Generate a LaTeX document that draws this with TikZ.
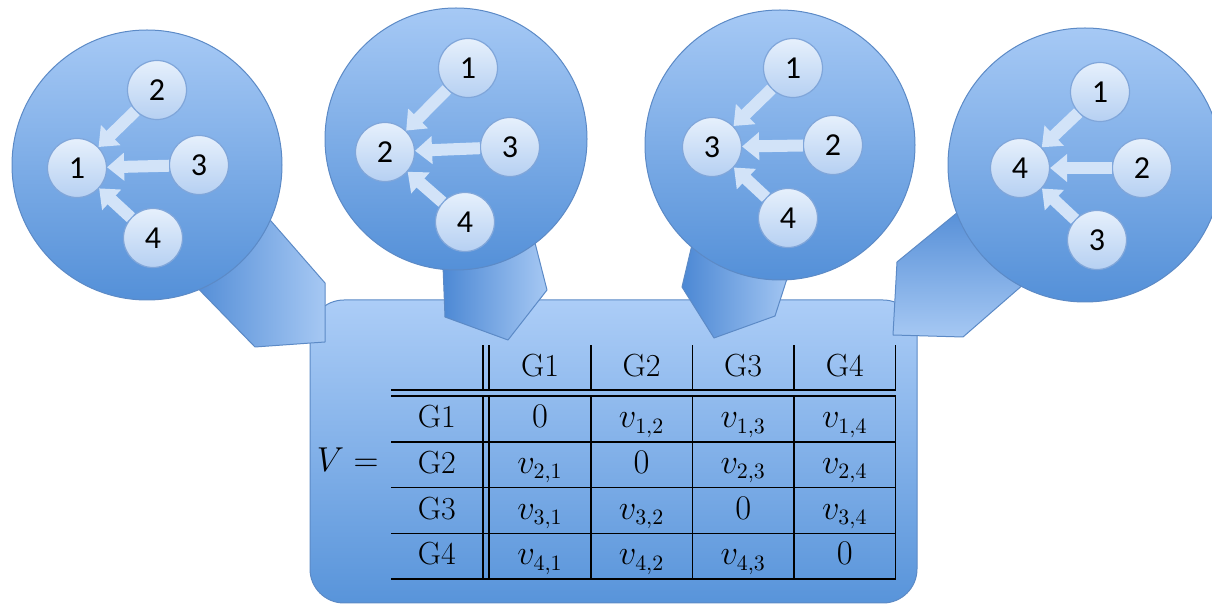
\documentclass[tikz,border=0pt]{standalone}
\usepackage{fontspec}
\usepackage{array}
\usepackage{tikz}
\usetikzlibrary{arrows.meta}
\newfontfamily\calibri{Carlito}

\definecolor{bubbletop}{RGB}{166,201,245}
\definecolor{bubblebot}{RGB}{84,144,216}
\definecolor{bubbleline}{RGB}{92,138,198}
\definecolor{dottop}{RGB}{230,240,252}
\definecolor{dotbot}{RGB}{182,208,242}
\definecolor{dotline}{RGB}{128,166,218}
\definecolor{arrowfill}{RGB}{210,227,248}
\definecolor{taildark}{RGB}{76,136,212}
\definecolor{taillight}{RGB}{166,200,243}
\definecolor{paneltop}{RGB}{172,205,247}
\definecolor{panelbot}{RGB}{88,148,218}

\tikzset{
  bubble/.style={draw=bubbleline, line width=0.5pt, top color=bubbletop, bottom color=bubblebot},
  tail/.style={draw=bubbleline, line width=0.5pt, line join=round},
  panel/.style={draw=bubbleline, line width=0.5pt, rounded corners=17pt, top color=paneltop, bottom color=panelbot},
  dot/.style={circle, minimum size=29.5pt, inner sep=0pt, draw=dotline, line width=0.6pt,
    top color=dottop, bottom color=dotbot, font=\calibri\fontsize{16}{18}\selectfont},
  flowarrow/.style={-{Triangle[width=13.5pt,length=8.5pt]}, line width=6pt, draw=arrowfill}
}

\begin{document}
\begin{tikzpicture}[x=0.5pt, y=-0.5pt]
\useasboundingbox (0,0) rectangle (1212,604);

% panel with the matrix
\draw[panel] (310,300) rectangle (917,603);

% tails of the bubbles
\draw[tail, left color=taildark, right color=taillight] (183,273) -- (255,347) -- (325,342) -- (325,283) -- (257,205) -- cycle;
\draw[tail, left color=taildark, right color=taillight] (442,240) -- (445,317) -- (508,340) -- (547,290) -- (533,235) -- cycle;
\draw[tail, left color=taildark, right color=taillight] (695,232) -- (682,287) -- (714,338) -- (775,316) -- (793,260) -- cycle;
\draw[tail, top color=taildark, bottom color=taillight] (980,194) -- (897,262) -- (893,335) -- (963,337) -- (1040,270) -- cycle;

% bubbles
\draw[bubble] (147,165) circle (67.5pt);
\draw[bubble] (456,139) circle (65.5pt);
\draw[bubble] (780,145) circle (67.5pt);
\draw[bubble] (1085,165) circle (68.5pt);

% graph G1
\node[dot] (a1) at (77,168) {1};
\node[dot] (a2) at (157,90) {2};
\node[dot] (a3) at (199,165) {3};
\node[dot] (a4) at (153,238) {4};
\draw[flowarrow] (a2) -- (a1);
\draw[flowarrow] (a3) -- (a1);
\draw[flowarrow] (a4) -- (a1);

% graph G2
\node[dot] (b2) at (385,152) {2};
\node[dot] (b1) at (468,68) {1};
\node[dot] (b3) at (510,147) {3};
\node[dot] (b4) at (465,222) {4};
\draw[flowarrow] (b1) -- (b2);
\draw[flowarrow] (b3) -- (b2);
\draw[flowarrow] (b4) -- (b2);

% graph G3
\node[dot] (c3) at (712,147) {3};
\node[dot] (c1) at (793,68) {1};
\node[dot] (c2) at (833,145) {2};
\node[dot] (c4) at (788,218) {4};
\draw[flowarrow] (c1) -- (c3);
\draw[flowarrow] (c2) -- (c3);
\draw[flowarrow] (c4) -- (c3);

% graph G4
\node[dot] (d4) at (1020,168) {4};
\node[dot] (d1) at (1100,92) {1};
\node[dot] (d2) at (1142,168) {2};
\node[dot] (d3) at (1097,240) {3};
\draw[flowarrow] (d1) -- (d4);
\draw[flowarrow] (d2) -- (d4);
\draw[flowarrow] (d3) -- (d4);

% matrix V
\node[anchor=north west, inner sep=0pt, font=\fontsize{16}{19}\selectfont] (vtab) at (391,345) {%
\setlength{\tabcolsep}{0pt}\setlength{\arrayrulewidth}{0.8pt}\setlength{\doublerulesep}{2.2pt}%
\renewcommand{\arraystretch}{1.16}%
\begin{tabular}{w{c}{45.5pt}||w{c}{50pt}|w{c}{50pt}|w{c}{50pt}|w{c}{50pt}|}
   & G1 & G2 & G3 & G4 \\ \hline\hline
G1 & $0$ & $v_{1,2}$ & $v_{1,3}$ & $v_{1,4}$ \\ \hline
G2 & $v_{2,1}$ & $0$ & $v_{2,3}$ & $v_{2,4}$ \\ \hline
G3 & $v_{3,1}$ & $v_{3,2}$ & $0$ & $v_{3,4}$ \\ \hline
G4 & $v_{4,1}$ & $v_{4,2}$ & $v_{4,3}$ & $0$ \\ \hline
\end{tabular}};
\node[anchor=base east, inner sep=0pt, font=\fontsize{16}{19}\selectfont] (vlabel) at ([xshift=-6pt]vtab.base west) {$V =$};
\end{tikzpicture}
\end{document}
